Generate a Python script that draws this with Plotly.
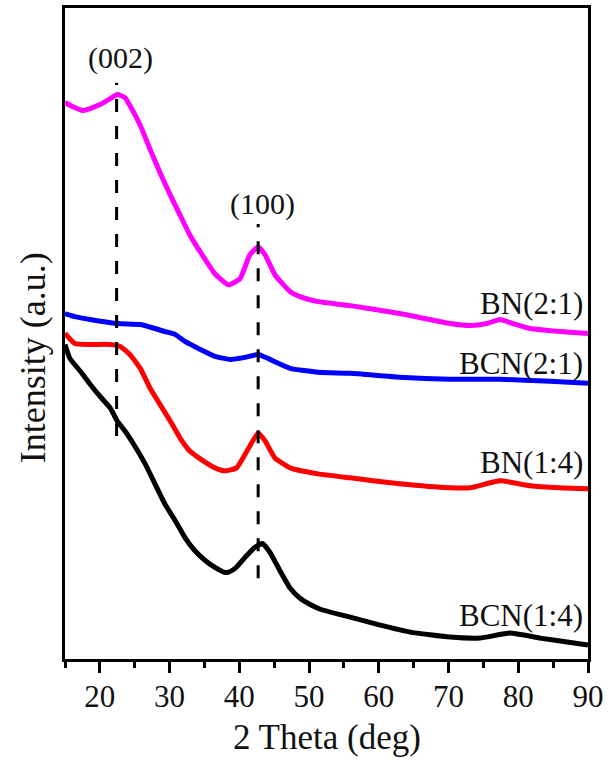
import plotly.graph_objects as go

# XRD patterns (2-theta in degrees, intensity in arbitrary units)
bn21_x = [15.0, 16.4, 17.5, 18.6, 20.0, 21.5, 22.5, 23.6, 24.3, 25.8, 27.2, 28.6, 30.1,
          31.5, 32.9, 34.4, 36.5, 38.4, 40.1, 41.5, 42.7, 43.7, 45.1, 47.3, 48.7, 51.3,
          55.9, 63.0, 70.2, 73.1, 75.5, 77.4, 79.2, 81.7, 86.0, 90.0]
bn21_y = [559, 554, 551, 553, 557, 563, 567, 564, 556, 536, 512, 489, 466,
          446, 426, 409, 387, 376, 382, 406, 414, 406, 386, 369, 364, 359,
          355, 347, 337, 335, 337, 341, 337, 332, 329, 327]

bcn21_x = [15.0, 16.4, 18.6, 22.5, 25.8, 27.9, 29.3, 30.8, 32.2, 34.4, 36.5, 38.7,
           40.8, 42.7, 44.4, 47.3, 51.3, 55.9, 63.0, 70.2, 77.4, 84.6, 90.0]
bcn21_y = [347, 344, 341, 337, 336, 332, 329, 326, 319, 311, 304, 301,
           303, 306, 301, 292, 288, 287, 283, 281, 281, 279, 277]

bn14_x = [15.0, 16.4, 18.6, 21.5, 22.9, 24.3, 25.8, 27.2, 28.6, 30.1, 31.5, 32.9,
          34.4, 36.5, 37.9, 39.6, 41.1, 42.7, 43.7, 45.1, 47.3, 51.3, 55.9, 63.0,
          70.2, 73.1, 77.4, 81.7, 86.0, 90.0]
bn14_y = [327, 317, 316, 316, 314, 306, 292, 272, 256, 239, 222, 209,
          201, 192, 189, 192, 209, 227, 219, 202, 192, 186, 182, 176,
          172, 172, 179, 174, 172, 171]

bcn14_x = [15.0, 15.7, 17.2, 18.6, 20.0, 21.5, 22.5, 23.6, 25.0, 26.5, 27.9, 29.3,
           30.8, 32.2, 33.6, 35.1, 36.5, 37.9, 38.4, 39.4, 40.8, 42.2, 43.3, 44.4,
           45.8, 47.3, 48.7, 50.1, 51.6, 55.9, 60.2, 64.5, 70.2, 74.5, 78.8, 83.1,
           87.0, 90.0]
bcn14_y = [316, 302, 289, 276, 264, 252, 239, 229, 214, 196, 176, 156,
           139, 122, 109, 99, 92, 87, 87, 91, 102, 112, 116, 107,
           89, 71, 61, 55, 50, 42, 34, 27, 22, 21, 26, 21,
           17, 14]

series_names = ["BN(2:1)", "BCN(2:1)", "BN(1:4)", "BCN(1:4)"]
series_colors = ["#FF00FF", "#0000FF", "#FF0000", "#000000"]
label_y = [357, 297, 197, 44]

# reflection markers: position, dashed span, label
peak_names = ["(002)", "(100)"]
peak_pos = [22.4, 42.7]
peak_span = [(224, 579), (81, 437)]
peak_label_x = [22.9, 43.3]
peak_label_y = [604, 457]

x_ticks = [20, 30, 40, 50, 60, 70, 80, 90]
x_minor = [15, 25, 35, 45, 55, 65, 75, 85]

FONT = "Liberation Serif, Times New Roman, serif"

fig = go.Figure()
all_x = [bn21_x, bcn21_x, bn14_x, bcn14_x]
all_y = [bn21_y, bcn21_y, bn14_y, bcn14_y]
for name, color, xs, ys in zip(series_names, series_colors, all_x, all_y):
    fig.add_trace(go.Scatter(
        x=xs, y=ys, mode="lines", name=name,
        line=dict(color=color, width=5, shape="spline", smoothing=0.45),
        showlegend=False,
    ))

for pos, (y0, y1) in zip(peak_pos, peak_span):
    fig.add_shape(type="line", x0=pos, x1=pos, y0=y0, y1=y1, xref="x", yref="y",
                  line=dict(color="black", width=3, dash="13px,14px"))

annotations = []
for name, px, py in zip(peak_names, peak_label_x, peak_label_y):
    annotations.append(dict(x=px, y=py, xref="x", yref="y", text=name, showarrow=False,
                            xanchor="center", yanchor="middle",
                            font=dict(family=FONT, size=30, color="#111111")))
for name, ly in zip(series_names, label_y):
    annotations.append(dict(x=89.6, y=ly, xref="x", yref="y", text=name, showarrow=False,
                            xanchor="right", yanchor="middle",
                            font=dict(family=FONT, size=31, color="#111111")))
# axis titles
annotations.append(dict(x=0.5, y=0, xref="paper", yref="paper", yshift=-78,
                        text="2 Theta (deg)", showarrow=False,
                        xanchor="center", yanchor="middle",
                        font=dict(family=FONT, size=35, color="#111111")))
annotations.append(dict(x=0, y=0.462, xref="paper", yref="paper", xshift=-32,
                        text="Intensity (a.u.)", showarrow=False, textangle=-90,
                        xanchor="center", yanchor="middle",
                        font=dict(family=FONT, size=36, color="#111111")))

fig.update_layout(
    width=609, height=762,
    margin=dict(l=65, r=21, t=5, b=103),
    paper_bgcolor="white", plot_bgcolor="white",
    annotations=annotations,
    xaxis=dict(
        range=[15, 90], tickvals=x_ticks, ticktext=[str(v) for v in x_ticks],
        ticks="outside", ticklen=11, tickwidth=3, tickcolor="black",
        ticklabelstandoff=-3,
        showline=True, linewidth=3, linecolor="black", mirror=True,
        showgrid=False, zeroline=False,
        tickfont=dict(family=FONT, size=31, color="#111111"),
        minor=dict(tickvals=x_minor, ticks="outside",
                   ticklen=6, tickwidth=3, tickcolor="black", showgrid=False),
    ),
    yaxis=dict(
        range=[0, 654], showticklabels=False, ticks="",
        showline=True, linewidth=3, linecolor="black", mirror=True,
        showgrid=False, zeroline=False,
    ),
)

fig.write_html("out.html")
